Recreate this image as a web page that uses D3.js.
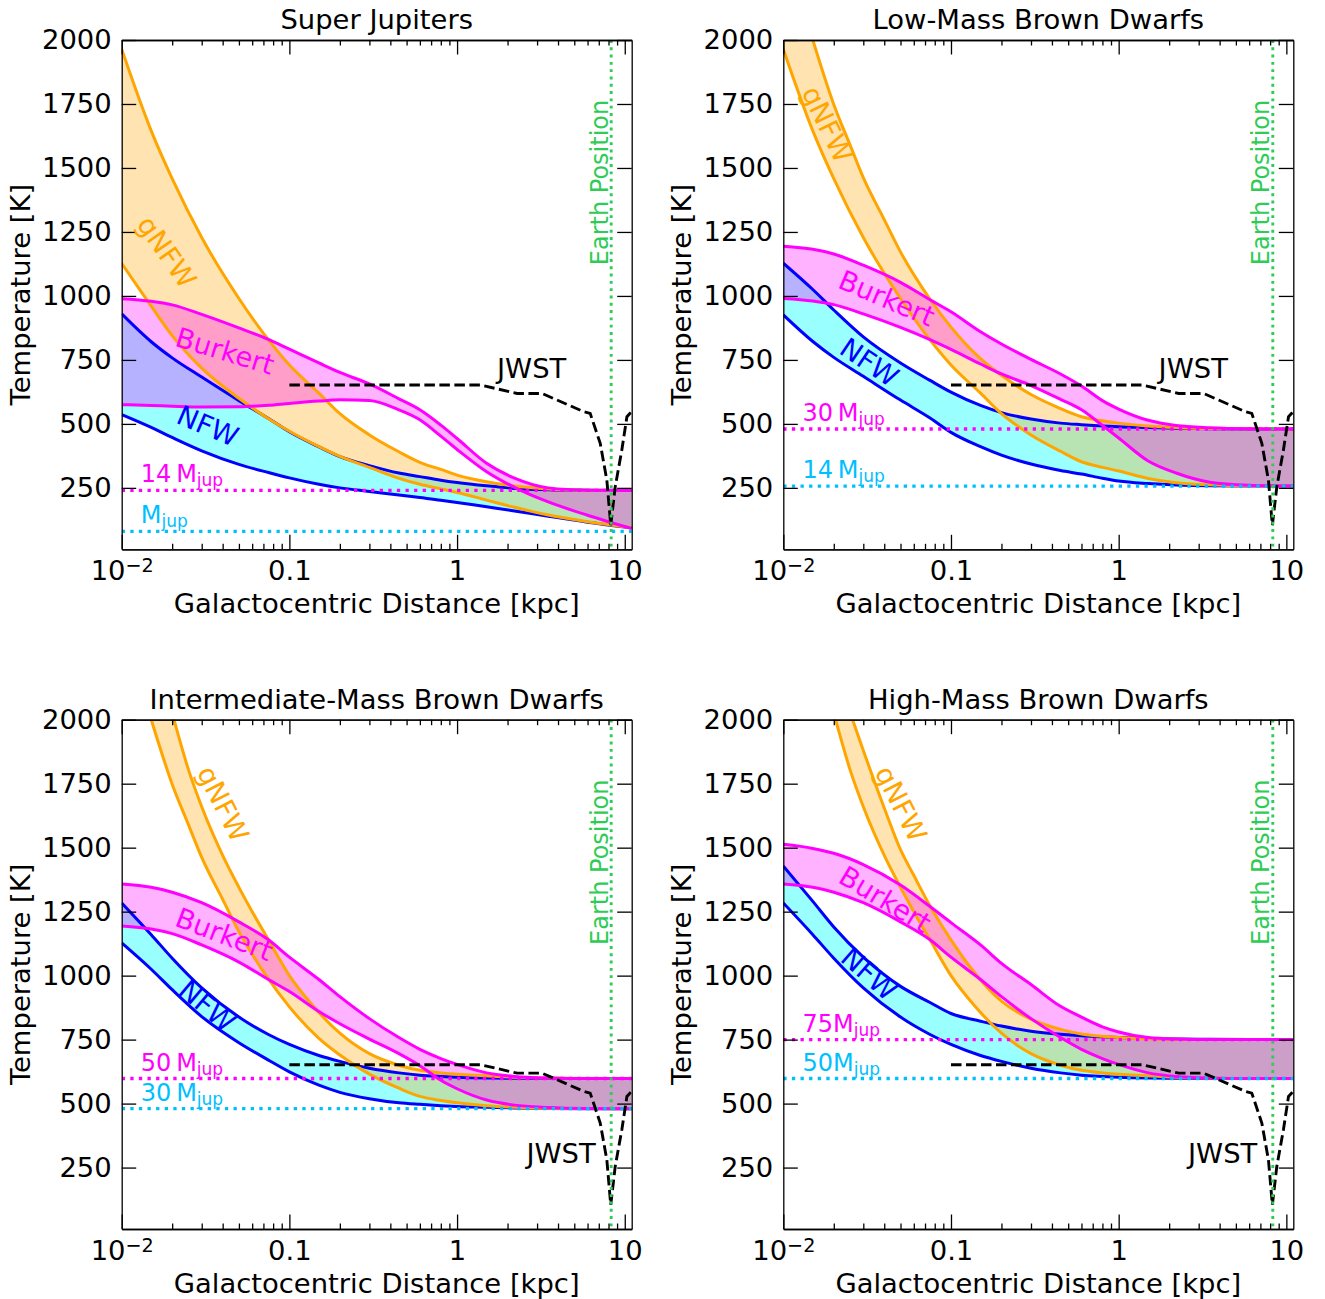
<!DOCTYPE html>
<html>
<head>
<meta charset="utf-8">
<script src="https://cdn.jsdelivr.net/npm/d3@7"></script>
<style>
  body { margin: 0; background: #fff; }
  text { font-family: "DejaVu Sans", sans-serif; }
</style>
</head>
<body>
<svg id="fig" width="1325" height="1299"></svg>
<script>
// Galactocentric radii (kpc) shared by the NFW and Burkert curves
const radii = [0.01, 0.015, 0.02, 0.03, 0.05, 0.075, 0.1, 0.15, 0.2, 0.3, 0.45, 0.6, 0.8, 1, 1.5, 2.2, 3.5, 6, 11];

// NFW temperatures (K)
const nfwJup  = [536, 486, 447, 395, 342, 310, 289, 264, 250, 236, 222, 212, 202, 193, 176, 160, 139, 116, 94];
const nfw14Sj = [930, 821, 758, 683, 591, 521, 469, 410, 372, 337, 308, 294, 280, 271, 258, 248, 243, 241, 240];
const nfw14Lm = [926, 822, 760, 686, 593, 523, 467, 411, 378, 343, 318, 304, 288, 277, 267, 261, 258, 257, 257];
const nfw30   = [1128, 1025, 945, 840, 738, 670, 624, 572, 544, 519, 503, 497, 492, 489, 486, 483, 481, 480, 480];
const nfw50   = [1284, 1160, 1068, 952, 838, 770, 731, 688, 665, 638, 620, 611, 606, 603, 600, 599, 598, 598, 598];
const nfw75   = [1428, 1290, 1190, 1072, 958, 895, 852, 822, 803, 783, 771, 765, 761, 758, 754, 752, 751, 750, 750];

// Burkert temperatures (K)
const burkertJup  = [575, 572, 569, 566, 567, 573, 580, 589, 594, 591, 555, 516, 452, 400, 313, 252, 195, 143, 91];
const burkert14Sj = [989, 979, 965, 928, 875, 830, 792, 738, 701, 656, 598, 555, 495, 443, 346, 288, 250, 241, 240];
const burkert14Lm = [990, 980, 966, 930, 877, 829, 791, 734, 695, 650, 596, 555, 494, 445, 355, 308, 272, 260, 257];
const burkert30   = [1194, 1182, 1164, 1120, 1053, 985, 938, 860, 812, 752, 695, 648, 591, 558, 514, 494, 485, 481, 480];
const burkert50   = [1358, 1345, 1326, 1285, 1210, 1140, 1072, 985, 918, 832, 758, 712, 676, 653, 620, 606, 600, 598, 598];
const burkert75   = [1513, 1497, 1478, 1434, 1354, 1270, 1207, 1120, 1048, 965, 880, 838, 800, 780, 758, 752, 750, 750, 750];

// gNFW temperatures (K); the hotter curves leave the frame at 2000 K
const gnfwJup  = [1127, 960, 845, 718, 600, 520, 471, 411, 373, 330, 287, 264, 246, 232, 202, 174, 144, 118, 95];
const gnfw14Sj = [1964, 1645, 1458, 1228, 990, 828, 730, 620, 540, 457, 391, 350, 322, 300, 274, 257, 246, 241, 240];
const gnfw14Lm = [1964, 1645, 1458, 1228, 990, 828, 730, 620, 540, 457, 393, 352, 330, 316, 287, 270, 262, 258, 257];
const gnfw30Radii = [0.015, 0.02, 0.025, 0.03, 0.04, 0.05, 0.075, 0.1, 0.15, 0.2, 0.3, 0.45, 0.6, 0.8, 1, 1.5, 2.2, 3.5, 6, 11];
const gnfw30      = [2000, 1748, 1590, 1462, 1298, 1172, 987, 878, 755, 690, 615, 560, 528, 512, 503, 492, 486, 482, 481, 480];
const gnfw50Radii = [0.0205, 0.025, 0.03, 0.04, 0.05, 0.06, 0.075, 0.1, 0.135, 0.2, 0.3, 0.45, 0.6, 0.8, 1.36, 2.2, 3.5, 6, 11];
const gnfw50      = [2000, 1805, 1660, 1470, 1345, 1250, 1140, 1000, 890, 775, 695, 650, 630, 620, 610, 603, 600, 598, 598];
const gnfw75Radii = [0.0259, 0.03, 0.04, 0.05, 0.06, 0.075, 0.1, 0.135, 0.2, 0.3, 0.45, 0.6, 0.8, 1, 1.5, 2.2, 3.5, 6, 11];
const gnfw75      = [2000, 1880, 1655, 1492, 1392, 1272, 1140, 1020, 900, 830, 790, 772, 763, 758, 752, 751, 750, 750, 750];

// JWST sensitivity curve
const jwstRadii = [0.1, 1.38, 2.28, 3.21, 5.68, 6.22, 7.14, 7.82, 8.25, 8.77, 9.6, 10.3, 11];
const jwstTemp  = [652, 652, 619, 619, 548, 541, 424, 280, 104, 254, 397, 528, 548];

// Earth's galactocentric distance (kpc)
const earthRadius = 8.3;

// Intrinsic temperatures (K) of the heavier / lighter object in each panel
const sjIntrinsic = [240, 80];
const lmIntrinsic = [480, 257];
const imIntrinsic = [598, 480];
const hmIntrinsic = [750, 598];

// Axis ticks
const xMajorTicks = [0.01, 0.1, 1, 10];
const xMinorTicks = [0.02, 0.03, 0.04, 0.05, 0.06, 0.07, 0.08, 0.09, 0.2, 0.3, 0.4, 0.5, 0.6, 0.7, 0.8, 0.9, 2, 3, 4, 5, 6, 7, 8, 9];
const yTicks = [250, 500, 750, 1000, 1250, 1500, 1750, 2000];

const BLUE = "#0000ff", ORANGE = "#ffa500", MAGENTA = "#ff00ff", SKY = "#00bfff", GREEN = "#2ecc55";
const FS = 27.4;

const panels = [
  { title: "Super Jupiters", left: 121.7, top: 40,
    nfw: [nfwJup, nfw14Sj], burkert: [burkertJup, burkert14Sj],
    gnfw: [[radii, gnfwJup], [radii, gnfw14Sj]],
    intrinsic: sjIntrinsic, massText: ["14\u2009M", "M"],
    jwstLabel: [1.73, 680],
    tags: [["gNFW", ORANGE, 45, 212, 55], ["Burkert", MAGENTA, 103.3, 311, 17], ["NFW", BLUE, 86, 386, 23]] },
  { title: "Low-Mass Brown Dwarfs", left: 783.3, top: 40,
    nfw: [nfw14Lm, nfw30], burkert: [burkert14Lm, burkert30],
    gnfw: [[radii, gnfw14Lm], [gnfw30Radii, gnfw30]],
    intrinsic: lmIntrinsic, massText: ["30\u2009M", "14\u2009M"],
    jwstLabel: [1.73, 680],
    tags: [["gNFW", ORANGE, 44, 84.3, 64], ["Burkert", MAGENTA, 103.4, 258.3, 23], ["NFW", BLUE, 86, 322.3, 34]] },
  { title: "Intermediate-Mass Brown Dwarfs", left: 121.7, top: 719.7,
    nfw: [nfw30, nfw50], burkert: [burkert30, burkert50],
    gnfw: [[gnfw30Radii, gnfw30], [gnfw50Radii, gnfw50]],
    intrinsic: imIntrinsic, massText: ["50\u2009M", "30\u2009M"],
    jwstLabel: [2.59, 266],
    tags: [["gNFW", ORANGE, 101.3, 84.2, 63], ["Burkert", MAGENTA, 102.5, 214.7, 21], ["NFW", BLUE, 85.4, 286.2, 40]] },
  { title: "High-Mass Brown Dwarfs", left: 783.3, top: 719.7,
    nfw: [nfw50, nfw75], burkert: [burkert50, burkert75],
    gnfw: [[gnfw50Radii, gnfw50], [gnfw75Radii, gnfw75]],
    intrinsic: hmIntrinsic, massText: ["75M", "50M"],
    jwstLabel: [2.59, 266],
    tags: [["gNFW", ORANGE, 117.6, 84.2, 63], ["Burkert", MAGENTA, 101.8, 179.7, 31], ["NFW", BLUE, 85.9, 254.2, 41]] }
];

const svg = d3.select("#fig");
svg.append("rect").attr("width", 1325).attr("height", 1299).attr("fill", "#fff");

panels.forEach(drawPanel);

function drawPanel(p, idx) {
  const w = 510, h = 509.3;
  const x = d3.scaleLog().domain([0.01, 11]).range([p.left, p.left + w]);
  const y = d3.scaleLinear().domain([10, 2000]).range([p.top + h, p.top]);
  const line = d3.line().x(d => x(d[0])).y(d => y(d[1])).curve(d3.curveMonotoneX);
  const pts = (r, t) => r.map((v, i) => [v, t[i]]);
  const band = (up, lo) => {
    let d = line(up) + "L" + line(lo.slice().reverse()).slice(1);
    if (up[0][1] >= 2000) d += "L" + x(lo[0][0]) + "," + y(2000);
    return d + "Z";
  };

  const g = svg.append("g");
  const clipId = "plotclip" + idx;
  g.append("clipPath").attr("id", clipId)
    .append("rect").attr("x", p.left).attr("y", p.top).attr("width", w).attr("height", h);
  const plot = g.append("g").attr("clip-path", `url(#${clipId})`);

  const nfwLo = pts(radii, p.nfw[0]), nfwHi = pts(radii, p.nfw[1]);
  const burLo = pts(radii, p.burkert[0]), burHi = pts(radii, p.burkert[1]);
  const gnLo = pts(p.gnfw[0][0], p.gnfw[0][1]), gnHi = pts(p.gnfw[1][0], p.gnfw[1][1]);

  // shaded bands
  plot.append("path").attr("d", band(nfwHi, nfwLo)).attr("fill", "cyan").attr("fill-opacity", 0.4);
  plot.append("path").attr("d", band(gnHi, gnLo)).attr("fill", ORANGE).attr("fill-opacity", 0.3);
  plot.append("path").attr("d", band(burHi, burLo)).attr("fill", MAGENTA).attr("fill-opacity", 0.3);

  // band edges
  const edges = [[nfwLo, BLUE], [nfwHi, BLUE], [gnLo, ORANGE], [gnHi, ORANGE], [burLo, MAGENTA], [burHi, MAGENTA]];
  edges.forEach(([d, c]) => {
    plot.append("path").attr("d", line(d)).attr("fill", "none").attr("stroke", c)
      .attr("stroke-width", 3).attr("stroke-linejoin", "round");
  });

  // intrinsic temperature levels
  p.intrinsic.forEach((t, i) => {
    plot.append("line").attr("x1", p.left).attr("x2", p.left + w).attr("y1", y(t)).attr("y2", y(t))
      .attr("stroke", i === 0 ? MAGENTA : SKY).attr("stroke-width", 3.3).attr("stroke-dasharray", "3.3 5.3");
  });

  // JWST curve
  const jwstLine = d3.line().x(d => x(d[0])).y(d => y(d[1]));
  plot.append("path").attr("d", jwstLine(pts(jwstRadii, jwstTemp))).attr("fill", "none")
    .attr("stroke", "#000").attr("stroke-width", 2.9).attr("stroke-dasharray", "10.5 4.5");

  // Earth position
  plot.append("line").attr("x1", x(earthRadius)).attr("x2", x(earthRadius))
    .attr("y1", p.top).attr("y2", p.top + h)
    .attr("stroke", GREEN).attr("stroke-width", 2.9).attr("stroke-dasharray", "2.9 4.4");

  // axes (ticks inward on all four sides)
  const styleAxis = sel => {
    sel.selectAll("path.domain").attr("stroke", "#000").attr("stroke-width", 1.3);
    sel.selectAll(".tick line").attr("stroke", "#000").attr("stroke-width", 1.3);
    sel.attr("font-family", null).attr("font-size", null);
    sel.selectAll("text").attr("font-size", FS).attr("fill", "#000");
  };
  const bottom = g.append("g").attr("transform", `translate(0,${p.top + h})`)
    .call(d3.axisBottom(x).tickValues(xMajorTicks).tickSize(-14.5).tickSizeOuter(0).tickPadding(11.5)
      .tickFormat(d => d === 0.01 ? "" : d3.format("~g")(d)));
  styleAxis(bottom);
  bottom.selectAll(".tick text").filter(d => d === 0.01).each(function () {
    const t = d3.select(this);
    t.append("tspan").text("10");
    t.append("tspan").attr("dy", "-0.42em").attr("font-size", FS * 0.7).text("\u22122");
  });
  const bottomMinor = g.append("g").attr("transform", `translate(0,${p.top + h})`)
    .call(d3.axisBottom(x).tickValues(xMinorTicks).tickSize(-5.5).tickSizeOuter(0).tickFormat(""));
  styleAxis(bottomMinor);
  const topAxis = g.append("g").attr("transform", `translate(0,${p.top})`)
    .call(d3.axisTop(x).tickValues(xMajorTicks).tickSize(-14.5).tickSizeOuter(0).tickFormat(""));
  styleAxis(topAxis);
  const topMinor = g.append("g").attr("transform", `translate(0,${p.top})`)
    .call(d3.axisTop(x).tickValues(xMinorTicks).tickSize(-5.5).tickSizeOuter(0).tickFormat(""));
  styleAxis(topMinor);
  const leftAxis = g.append("g").attr("transform", `translate(${p.left},0)`)
    .call(d3.axisLeft(y).tickValues(yTicks).tickSize(-14.5).tickSizeOuter(0).tickPadding(10).tickFormat(d3.format("d")));
  styleAxis(leftAxis);
  const rightAxis = g.append("g").attr("transform", `translate(${p.left + w},0)`)
    .call(d3.axisRight(y).tickValues(yTicks).tickSize(-14.5).tickSizeOuter(0).tickFormat(""));
  styleAxis(rightAxis);

  // titles and axis labels
  g.append("text").attr("x", p.left + w / 2).attr("y", p.top - 11).attr("text-anchor", "middle")
    .attr("font-size", FS).text(p.title);
  g.append("text").attr("x", p.left + w / 2).attr("y", p.top + h + 64).attr("text-anchor", "middle")
    .attr("font-size", FS).text("Galactocentric Distance [kpc]");
  g.append("text").attr("transform", `translate(${p.left - 92},${p.top + h / 2}) rotate(-90)`)
    .attr("text-anchor", "middle").attr("font-size", FS).text("Temperature [K]");

  // curve names
  p.tags.forEach(([name, color, dx, dy, angle]) => {
    g.append("text").attr("transform", `translate(${p.left + dx},${p.top + dy}) rotate(${angle})`)
      .attr("text-anchor", "middle").attr("dy", "0.35em").attr("font-size", FS).attr("fill", color).text(name);
  });

  // mass labels above the intrinsic levels
  p.intrinsic.forEach((t, i) => {
    const lab = g.append("text").attr("x", x(0.013)).attr("y", y(t) - 8)
      .attr("font-size", 24).attr("fill", i === 0 ? MAGENTA : SKY);
    lab.append("tspan").text(p.massText[i]);
    lab.append("tspan").attr("dy", 4).attr("font-size", 17).text("jup");
  });

  // JWST label
  g.append("text").attr("x", x(p.jwstLabel[0])).attr("y", y(p.jwstLabel[1]))
    .attr("font-size", FS).attr("fill", "#000").text("JWST");

  // Earth position label
  g.append("text").attr("transform", `translate(${x(earthRadius) - 3.5},${y(1120)}) rotate(-90)`)
    .attr("font-size", 24).attr("fill", GREEN).text("Earth Position");
}
</script>
</body>
</html>
